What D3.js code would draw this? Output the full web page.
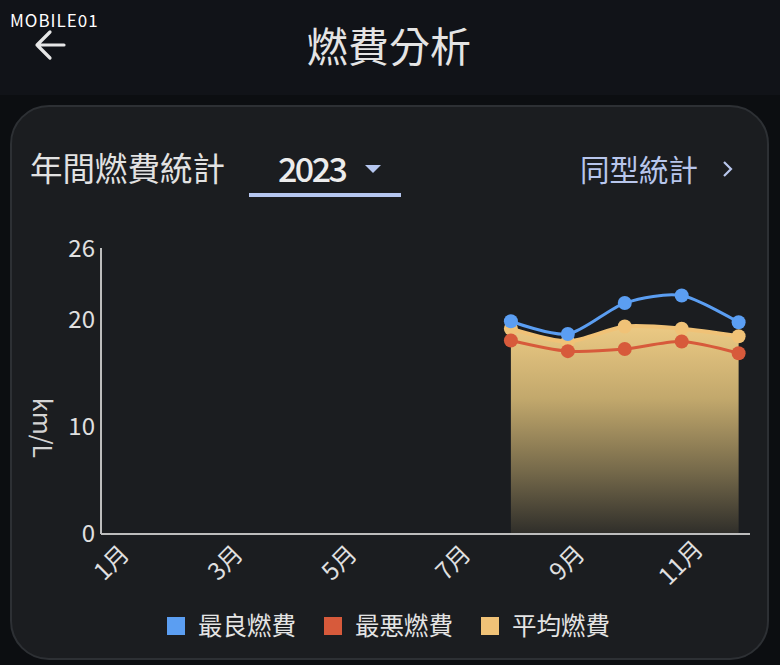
<!DOCTYPE html>
<html><head><meta charset="utf-8">
<script src="https://cdn.jsdelivr.net/npm/d3@7/dist/d3.min.js"></script>
<style>
html,body{margin:0;padding:0;background:#0c0e11;}
svg{display:block;}
text{font-family:"Noto Sans CJK TC","Noto Sans",sans-serif;}
</style></head>
<body>
<svg id="c" width="780" height="665"></svg>
<script>
const months = ["1月","2月","3月","4月","5月","6月","7月","8月","9月","10月","11月","12月"];
const tickMonths = ["1月","3月","5月","7月","9月","11月"];
const bestValues  = [null,null,null,null,null,null,null,19.9,18.7,21.6,22.3,19.8];
const worstValues = [null,null,null,null,null,null,null,18.1,17.1,17.3,18.0,16.9];
const avgValues   = [null,null,null,null,null,null,null,19.2,18.0,19.4,19.2,18.5];
const yTicks = [0,10,20,26];
const seriesNames = ["最良燃費","最悪燃費","平均燃費"];
const seriesColors = ["#5b9ef2","#d75a3b","#f0c277"];

const svg = d3.select("#c");
// header
svg.append("rect").attr("x",0).attr("y",0).attr("width",780).attr("height",95).attr("fill","#111318");
svg.append("rect").attr("x",0).attr("y",95).attr("width",780).attr("height",570).attr("fill","#0c0e11");
svg.append("text").attr("x",10).attr("y",27).attr("fill","#fff").attr("font-size",17)
  .attr("font-family","DejaVu Sans").attr("letter-spacing",1).text("MOBILE01");
svg.append("path").attr("d","M64,45 H37 M50,32 L37,45 L50,58").attr("fill","none")
  .attr("stroke","#e6e6e6").attr("stroke-width",3.2).attr("stroke-linecap","round").attr("stroke-linejoin","round");
svg.append("text").attr("x",389).attr("y",62).attr("text-anchor","middle").attr("fill","#e4e4e4")
  .attr("font-size",41).text("燃費分析");

// card
svg.append("rect").attr("x",11).attr("y",106).attr("width",757).attr("height",553).attr("rx",38)
  .attr("fill","#1b1d20").attr("stroke","#2d3034").attr("stroke-width",2);
svg.append("text").attr("x",30).attr("y",181).attr("fill","#e2e2e2").attr("font-size",32.5).text("年間燃費統計");
svg.append("text").attr("x",278).attr("y",182).attr("fill","#ececec").attr("font-size",34).attr("font-weight",500)
  .attr("textLength",70).text("2023");
svg.append("path").attr("d","M365,165 L381,165 L373,173 Z").attr("fill","#b6c7f0");
svg.append("rect").attr("x",249).attr("y",193).attr("width",152).attr("height",4).attr("fill","#b6c7f0");
svg.append("text").attr("x",580).attr("y",181).attr("fill","#b8c6ec").attr("font-size",29.5).text("同型統計");
svg.append("path").attr("d","M724,162 L731,169 L724,176").attr("fill","none").attr("stroke","#b8c6ec").attr("stroke-width",2.2);

// chart
const x = d3.scalePoint().domain(months).range([101,750]).padding(0.2);
const y = d3.scaleLinear().domain([0,26]).range([534,256]);

const defs = svg.append("defs");
const g = defs.append("linearGradient").attr("id","ag").attr("gradientUnits","userSpaceOnUse")
  .attr("x1",0).attr("x2",0).attr("y1",y(19.5)).attr("y2",y(0));
g.append("stop").attr("offset",0).attr("stop-color","#ecca84");
g.append("stop").attr("offset",0.35).attr("stop-color","#c2a86c");
g.append("stop").attr("offset",0.7).attr("stop-color","#75694a");
g.append("stop").attr("offset",1).attr("stop-color","#2f2e2a");

const idx = d3.range(months.length).filter(i => avgValues[i] != null);
const curve = d3.curveCardinal.tension(0.2);
const area = d3.area().x(i => x(months[i])).y0(y(0)+1).y1(i => y(avgValues[i])).curve(curve);
svg.append("path").attr("d",area(idx)).attr("fill","url(#ag)");

// axes
const yAxis = d3.axisLeft(y).tickValues(yTicks).tickSize(0).tickPadding(6);
const ya = svg.append("g").attr("transform","translate(101,0)").call(yAxis);
ya.select(".domain").attr("stroke","#bdbdbd").attr("stroke-width",2).attr("d","M0,248 V534");
ya.selectAll("text").attr("fill","#e0e0e0").attr("font-size",24).attr("font-family","Noto Sans CJK TC")
  .attr("dy",d => d===26 ? "0.02em" : "0.32em");
const xAxis = d3.axisBottom(x).tickValues(tickMonths).tickSize(0);
const xa = svg.append("g").attr("transform","translate(0,534)").call(xAxis);
xa.select(".domain").attr("stroke","#bdbdbd").attr("stroke-width",2).attr("d","M101,0 H750");
xa.selectAll("text").attr("fill","#e0e0e0").attr("font-size",24).attr("font-family","Noto Sans CJK TC")
  .attr("text-anchor","middle").attr("dy",0).attr("y",0)
  .attr("transform","translate(0,30) rotate(-45)").attr("dominant-baseline","middle");

svg.append("text").attr("transform","translate(33,428) rotate(90)").attr("text-anchor","middle")
  .attr("fill","#d4d4d4").attr("font-size",25).text("km/L");

// lines
const series = [bestValues, worstValues, avgValues];
const order = [2,0,1];
order.forEach(s => {
  const vals = series[s];
  const line = d3.line().x(i => x(months[i])).y(i => y(vals[i])).curve(curve);
  svg.append("path").attr("d",line(idx)).attr("fill","none").attr("stroke",seriesColors[s])
    .attr("stroke-width", s===2 ? 4 : 3);
});
order.forEach(s => {
  const vals = series[s];
  svg.append("g").selectAll("circle").data(idx).join("circle")
    .attr("cx",i => x(months[i])).attr("cy",i => y(vals[i])).attr("r",7).attr("fill",seriesColors[s]);
});

// legend
const lx = [167,324,481];
seriesNames.forEach((n,k) => {
  svg.append("rect").attr("x",lx[k]).attr("y",617).attr("width",18).attr("height",18).attr("fill",seriesColors[k]);
  svg.append("text").attr("x",lx[k]+31).attr("y",635).attr("fill","#e4e4e4").attr("font-size",24.5).text(n);
});
</script>
</body></html>
